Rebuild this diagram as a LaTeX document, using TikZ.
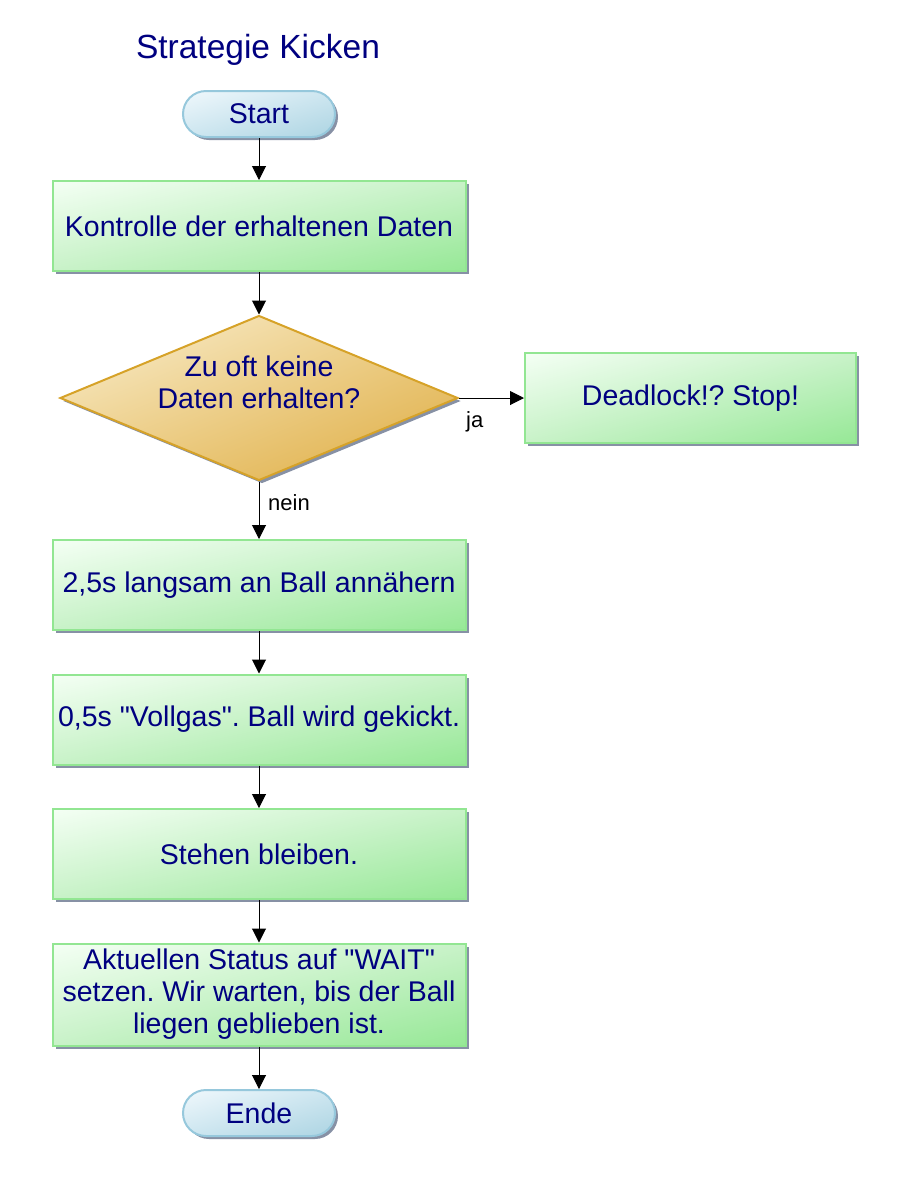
\documentclass[tikz,border=0pt]{standalone}
\usepackage{fontspec}
\newfontfamily\arialish{Liberation Sans}
\usetikzlibrary{shapes.geometric,arrows.meta,shadows,shadings}
\definecolor{navytext}{RGB}{0,0,128}
\definecolor{gborder}{RGB}{146,230,146}
\definecolor{gtl}{RGB}{244,255,244}
\definecolor{gmid}{RGB}{200,242,200}
\definecolor{gbr}{RGB}{150,232,150}
\definecolor{bborder}{RGB}{150,200,220}
\definecolor{btl}{RGB}{240,248,252}
\definecolor{bmid}{RGB}{205,230,240}
\definecolor{bbr}{RGB}{172,212,226}
\definecolor{dborder}{RGB}{214,162,40}
\definecolor{dtl}{RGB}{250,240,212}
\definecolor{dmid}{RGB}{236,204,130}
\definecolor{dbr}{RGB}{222,172,66}
\definecolor{shadowc}{RGB}{135,145,165}
\begin{document}
\frenchspacing
\begin{tikzpicture}[x=1pt,y=-1pt,
  shd/.style={drop shadow={shadow xshift=3pt,shadow yshift=-3pt,fill=shadowc,opacity=1}},
  procbox/.style={rectangle,draw=gborder,line width=2pt,shd,
    upper left=gtl,upper right=gmid,lower left=gmid,lower right=gbr,
    minimum width=413pt,minimum height=90pt,inner sep=2pt,
    text=navytext,font=\arialish\fontsize{28.5}{32}\selectfont,align=center},
  termbox/.style={rectangle,rounded corners=23pt,draw=bborder,line width=2pt,shd,
    upper left=btl,upper right=bmid,lower left=bmid,lower right=bbr,
    minimum width=152pt,minimum height=46pt,inner sep=0pt,
    text=navytext,font=\arialish\fontsize{28.5}{32}\selectfont},
  decbox/.style={diamond,draw=dborder,line width=2pt,shd,
    upper left=dtl,upper right=dmid,lower left=dmid,lower right=dbr,
    minimum width=398pt,minimum height=165pt,aspect=2.41,inner sep=0pt},
  dtextstyle/.style={text=navytext,font=\arialish\fontsize{28.5}{32}\selectfont,align=center,inner sep=0pt},
  lbl/.style={font=\arialish\fontsize{22}{25}\selectfont,inner sep=0pt,text=black},
  arr/.style={line width=1pt,-{Triangle[length=14pt,width=14pt]}}
]
\useasboundingbox (0,0) rectangle (907,1179);
\node[text=navytext,font=\arialish\fontsize{33.5}{38}\selectfont,anchor=base,inner sep=0pt] (title) at (258,58) {Strategie Kicken};
\node[termbox] (start) at (259,114) {Start};
\node[procbox] (b1) at (259,226) {Kontrolle der erhaltenen Daten};
\node[decbox] (d) at (259,398) {};
\node[dtextstyle] (dt) at (259,382) {Zu oft keine\\Daten erhalten?};
\node[procbox,minimum width=331pt] (dl) at (690.5,398) {Deadlock!? Stop!};
\node[procbox] (b2) at (259,585) {2,5s langsam an Ball ann\"ahern};
\node[procbox] (b3) at (259,719.5) {0,5s "Vollgas". Ball wird gekickt.};
\node[procbox] (b4) at (259,854) {Stehen bleiben.};
\node[procbox,minimum height=102pt] (b5) at (259,994.5) {Aktuellen Status auf "WAIT"\\setzen. Wir warten, bis der Ball\\liegen geblieben ist.};
\node[termbox] (ende) at (259,1113) {Ende};
\draw[arr] (start) -- (b1);
\draw[arr] (b1) -- (d);
\draw[arr] (d.east) -- (dl.west);
\draw[arr] (d.south) -- (b2);
\draw[arr] (b2) -- (b3);
\draw[arr] (b3) -- (b4);
\draw[arr] (b4) -- (b5);
\draw[arr] (b5) -- (ende);
\node[lbl,anchor=base west] (ja) at (466,427) {ja};
\node[lbl,anchor=base west] (nein) at (268,510) {nein};
\end{tikzpicture}
\end{document}
